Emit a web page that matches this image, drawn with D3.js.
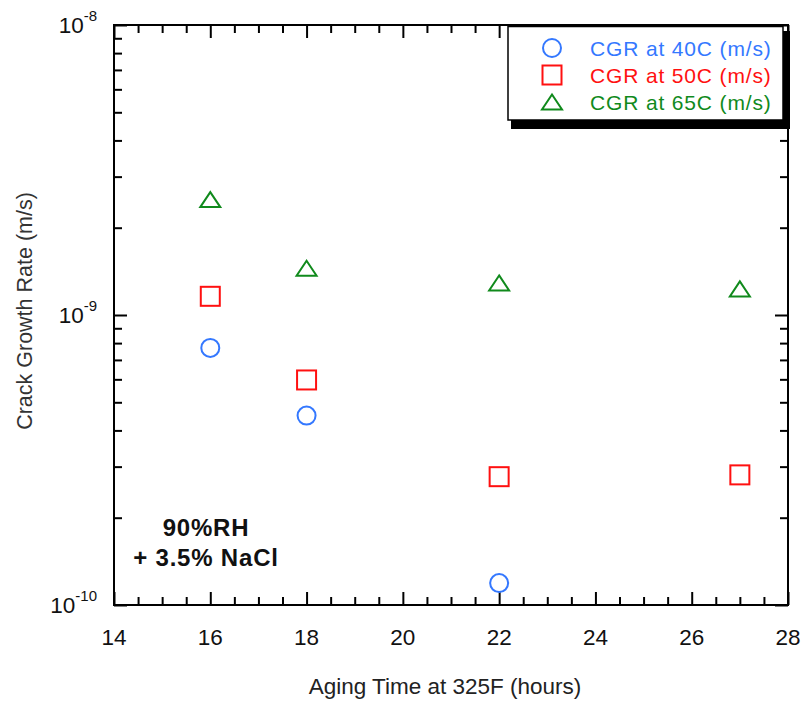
<!DOCTYPE html>
<html>
<head>
<meta charset="utf-8">
<script src="https://cdn.jsdelivr.net/npm/d3@7"></script>
<style>
  html, body { margin: 0; padding: 0; background: #fff; }
  svg { display: block; font-family: Arial, "Liberation Sans", Helvetica, sans-serif; }
</style>
</head>
<body>
<svg id="chart" width="805" height="702"></svg>
<script>
// Crack growth rate vs. aging time, three test temperatures
const hours40 = [16, 18, 22];
const cgr40   = [7.7e-10, 4.5e-10, 1.19e-10];
const hours50 = [16, 18, 22, 27];
const cgr50   = [1.16e-9, 5.97e-10, 2.77e-10, 2.81e-10];
const hours65 = [16, 18, 22, 27];
const cgr65   = [2.5e-9, 1.45e-9, 1.29e-9, 1.23e-9];

const seriesNames = ["CGR at 40C (m/s)", "CGR at 50C (m/s)", "CGR at 65C (m/s)"];
const xMajorTicks = [14, 16, 18, 20, 22, 24, 26, 28];
const yDecades = [1e-10, 1e-9, 1e-8];
const yDecadeExponents = ["-10", "-9", "-8"];
const noteLines = ["90%RH", "+ 3.5% NaCl"];

const colors = ["#3478ff", "#ff1010", "#108a1c"];

const svg = d3.select("#chart");
const L = 114, R = 788, T = 25, B = 605;

const x = d3.scaleLinear().domain([14, 28]).range([L, R]);
const y = d3.scaleLog().domain([1e-10, 1e-8]).range([B, T]);

const xMinor = d3.range(14, 28.001, 0.5).filter(v => !xMajorTicks.includes(v));
const yMinor = [];
[1e-10, 1e-9].forEach(d => { for (let k = 2; k <= 9; k++) yMinor.push(d * k); });

const MAJ = 13, MIN = 8;
const axesG = svg.append("g").attr("class", "axes");

function drawAxis(axisFn, scale, values, size, transform) {
  const g = axesG.append("g")
    .attr("transform", transform)
    .call(axisFn(scale).tickValues(values).tickSize(-size).tickFormat(""));
  g.select(".domain").remove();
  g.selectAll(".tick line").attr("stroke", "#000").attr("stroke-width", 2);
}
// bottom/top
drawAxis(d3.axisBottom, x, xMajorTicks, MAJ, `translate(0,${B})`);
drawAxis(d3.axisBottom, x, xMinor, MIN, `translate(0,${B})`);
drawAxis(d3.axisTop, x, xMajorTicks, MAJ, `translate(0,${T})`);
drawAxis(d3.axisTop, x, xMinor, MIN, `translate(0,${T})`);
// left/right
drawAxis(d3.axisLeft, y, yDecades, MAJ, `translate(${L},0)`);
drawAxis(d3.axisLeft, y, yMinor, MIN, `translate(${L},0)`);
drawAxis(d3.axisRight, y, yDecades, MAJ, `translate(${R},0)`);
drawAxis(d3.axisRight, y, yMinor, MIN, `translate(${R},0)`);

// frame
axesG.append("rect")
  .attr("x", L).attr("y", T).attr("width", R - L).attr("height", B - T)
  .attr("fill", "none").attr("stroke", "#000").attr("stroke-width", 2);

// x tick labels
svg.append("g").selectAll("text").data(xMajorTicks).join("text")
  .attr("x", d => x(d)).attr("y", 645)
  .attr("text-anchor", "middle").attr("font-size", 22.5).attr("fill", "#111")
  .text(d => d);

// y tick labels as powers of ten
const yl = svg.append("g").selectAll("text").data(yDecades).join("text")
  .attr("x", 97).attr("y", d => y(d) + 8)
  .attr("text-anchor", "end").attr("font-size", 22.5).attr("fill", "#111");
yl.append("tspan").text("10");
yl.append("tspan").attr("dy", -12).attr("font-size", 15)
  .text((d, i) => yDecadeExponents[i]);

// axis titles
svg.append("text").attr("x", 445).attr("y", 694)
  .attr("text-anchor", "middle").attr("font-size", 22.5).attr("fill", "#222")
  .text("Aging Time at 325F (hours)");
svg.append("text")
  .attr("transform", `translate(32,311) rotate(-90)`)
  .attr("text-anchor", "middle").attr("font-size", 21.5).attr("fill", "#333")
  .text("Crack Growth Rate (m/s)");

// marker shapes
const triPath = "M0,-7.5L10,7.5L-10,7.5Z";
function marker(sel, kind, color) {
  if (kind === 0) {
    sel.append("circle").attr("r", 9);
  } else if (kind === 1) {
    sel.append("rect").attr("x", -9.5).attr("y", -9.5).attr("width", 19).attr("height", 19);
  } else {
    sel.append("path").attr("d", triPath);
  }
  sel.selectAll("circle,rect,path")
    .attr("fill", "none").attr("stroke", color).attr("stroke-width", 2);
}

const series = [
  { xs: hours40, ys: cgr40 },
  { xs: hours50, ys: cgr50 },
  { xs: hours65, ys: cgr65 }
];
series.forEach((s, si) => {
  const pts = s.xs.map((h, i) => [h, s.ys[i]]);
  svg.append("g").selectAll("g").data(pts).join("g")
    .attr("transform", d => `translate(${x(d[0])},${y(d[1])})`)
    .each(function () { marker(d3.select(this), si, colors[si]); });
});

// annotation
const note = svg.append("g").attr("font-weight", "bold").attr("font-size", 24)
  .attr("text-anchor", "middle").attr("fill", "#111");
note.selectAll("text").data(noteLines).join("text")
  .attr("x", 206).attr("y", (d, i) => 536 + i * 30)
  .attr("letter-spacing", 0.8)
  .text(d => d);

// legend with drop shadow
const lg = svg.append("g");
lg.append("rect").attr("x", 511).attr("y", 31).attr("width", 279).attr("height", 98).attr("fill", "#000");
lg.append("rect").attr("x", 508).attr("y", 26.5).attr("width", 275).attr("height", 93.5)
  .attr("fill", "#fff").attr("stroke", "#000").attr("stroke-width", 1.5);
seriesNames.forEach((name, i) => {
  const cy = 48 + i * 27;
  const g = lg.append("g").attr("transform", `translate(552,${cy})`);
  marker(g, i, colors[i]);
  lg.append("text").attr("x", 590).attr("y", cy + 7.5)
    .attr("font-size", 21).attr("letter-spacing", 0.85).attr("fill", colors[i])
    .text(name);
});
</script>
</body>
</html>
